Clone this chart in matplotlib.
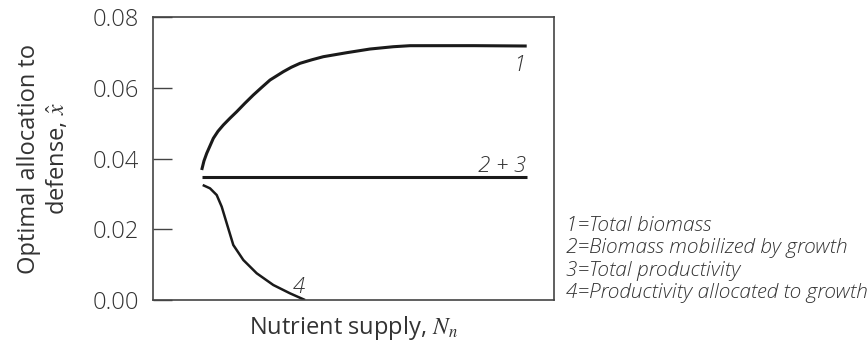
import matplotlib.pyplot as plt
import numpy as np

plt.rcParams['font.family'] = ['Open Sans', 'DejaVu Sans']
plt.rcParams['font.weight'] = 'light'
plt.rcParams['mathtext.fontset'] = 'stix'

# nutrient supply (relative position along x) and optimal allocation
n1 = [0.1214, 0.127, 0.1339, 0.1504, 0.162, 0.1753, 0.192, 0.2087, 0.229, 0.2501,
      0.271, 0.2918, 0.3249, 0.345, 0.3666, 0.3958, 0.4247, 0.4830, 0.5411, 0.5993,
      0.6409, 0.80, 0.9319]
x1 = [0.03675, 0.0393, 0.04147, 0.04571, 0.0477, 0.04947, 0.0514, 0.05323, 0.0556, 0.05795,
      0.0601, 0.06219, 0.06454, 0.0658, 0.06691, 0.0679, 0.06878, 0.06991, 0.07095, 0.07160,
      0.07189, 0.07190, 0.07180]

n23 = [0.1214, 0.9319]
x23 = [0.03469, 0.03469]

n4 = [0.1239, 0.1421, 0.1588, 0.1713, 0.1838, 0.2002, 0.2252, 0.2586, 0.3000, 0.3416, 0.3791]
x4 = [0.03251, 0.03157, 0.02968, 0.02637, 0.02168, 0.01555, 0.01131, 0.00755, 0.00424,
      0.00189, 0.0]

curve_labels = ['1', '2 + 3', '4']
legend_lines = ['1=Total biomass', '2=Biomass mobilized by growth',
                '3=Total productivity', '4=Productivity allocated to growth']

fig = plt.figure(figsize=(8.67, 3.47), dpi=100)
ax = fig.add_axes([0.1765, 0.1354, 0.4625, 0.8156])

ax.plot(n1, x1, color='#1a1a1a', lw=2.2, solid_capstyle='butt', solid_joinstyle='round')
ax.plot(n23, x23, color='#1a1a1a', lw=2.2, solid_capstyle='butt')
ax.plot(n4, x4, color='#1a1a1a', lw=1.8, solid_capstyle='butt', solid_joinstyle='round')

ax.text(0.928, 0.0648, curve_labels[0], style='italic', fontsize=16, ha='right', color='#333333')
ax.text(0.932, 0.0362, curve_labels[1], style='italic', fontsize=16, ha='right', color='#333333')
ax.text(0.378, 0.0020, curve_labels[2], style='italic', fontsize=16, ha='right', color='#333333')

ax.set_xlim(0, 1)
ax.set_ylim(0, 0.08)
ax.set_xticks([])
ax.set_yticks([0, 0.02, 0.04, 0.06, 0.08])
ax.set_yticklabels(['0.00', '0.02', '0.04', '0.06', '0.08'])
ax.tick_params(axis='y', direction='in', length=14, width=1, color='#444444',
               labelsize=17, labelcolor='#333333', pad=10)
for s in ax.spines.values():
    s.set_color('#444444')
    s.set_linewidth(1.2)

ax.set_ylabel('Optimal allocation to\ndefense, $\\hat{x}$', fontsize=17,
              color='#333333', linespacing=1.25, labelpad=16)
ax.set_xlabel('Nutrient supply, $N_n$', fontsize=17, color='#333333', labelpad=10)

for i, t in enumerate(legend_lines):
    fig.text(566 / 867, 1 - (226 + 22.3 * i) / 347, t, style='italic', fontsize=15,
             va='center', color='#333333')

fig.savefig('out.png', dpi=100)
